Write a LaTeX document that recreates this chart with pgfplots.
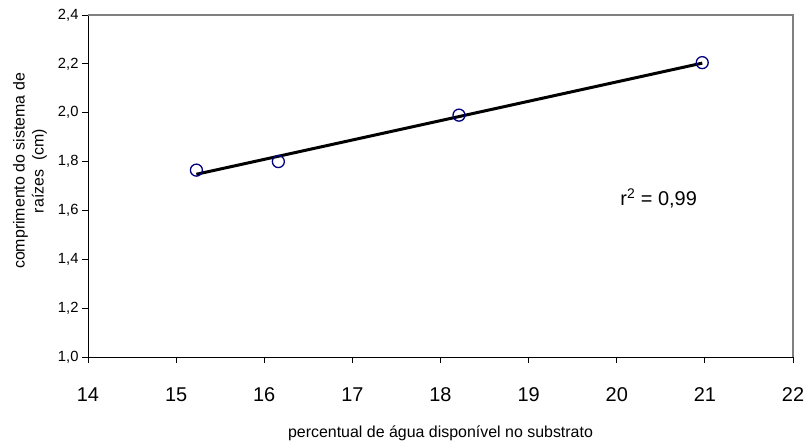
\documentclass[border=0pt]{standalone}
\usepackage{fontspec}
\setmainfont{Liberation Sans}
\usepackage{pgfplots}
\pgfplotsset{compat=1.18}
\definecolor{navyc}{RGB}{0,0,128}
\definecolor{frameg}{RGB}{128,128,128}
\begin{document}
\begin{tikzpicture}
\begin{axis}[
  name=ax, at={(0,0)}, anchor=south west,
  scale only axis, width=705bp, height=342bp,
  xmin=14, xmax=22, ymin=1.0, ymax=2.4,
  xtick={14,15,...,22}, ytick={1.0,1.2,1.4,1.6,1.8,2.0,2.2,2.4},
  axis x line*=bottom, axis y line*=left,
  axis line style={black, line width=0.9bp, -},
  tick style={black, line width=0.9bp},
  tick align=outside, major tick length=6bp,
  /pgf/number format/assume math mode=true,
  x tick label style={font=\fontsize{20}{24}\selectfont, yshift=-21bp},
  y tick label style={font=\fontsize{14.8}{17}\selectfont, /pgf/number format/.cd, fixed, fixed zerofill, precision=1, use comma},
  xlabel={percentual de água disponível no substrato},
  xlabel style={font=\fontsize{16}{19}\selectfont, at={(axis description cs:0.5,0)}, anchor=center, yshift=-76bp},
  clip=false,
]
\draw[frameg, line width=1.3bp] (rel axis cs:0,1) -- (rel axis cs:1,1) -- (rel axis cs:1,0);
\addplot[black, line width=3bp, no marks] coordinates {(15.23,1.748) (20.97,2.203)};
\addplot[only marks, mark=o, mark size=6bp, mark options={navyc, line width=1.3bp}] coordinates {
  (15.23,1.765) (16.16,1.80) (18.21,1.99) (20.97,2.205)};
\node[anchor=west, inner sep=0pt, font=\fontsize{20}{24}\selectfont] at (axis cs:20.04,1.65) {r\textsuperscript{2} = 0,99};
\node[align=center, rotate=90, font=\fontsize{16}{19}\selectfont] at ([xshift=-58bp]rel axis cs:0,0.544) {comprimento do sistema de\\raízes\ \ (cm)};
\end{axis}
\pgfresetboundingbox
\path ([shift={(-88bp,-84bp)}]ax.south west) rectangle ([shift={(14bp,15bp)}]ax.north east);
\end{tikzpicture}
\end{document}
